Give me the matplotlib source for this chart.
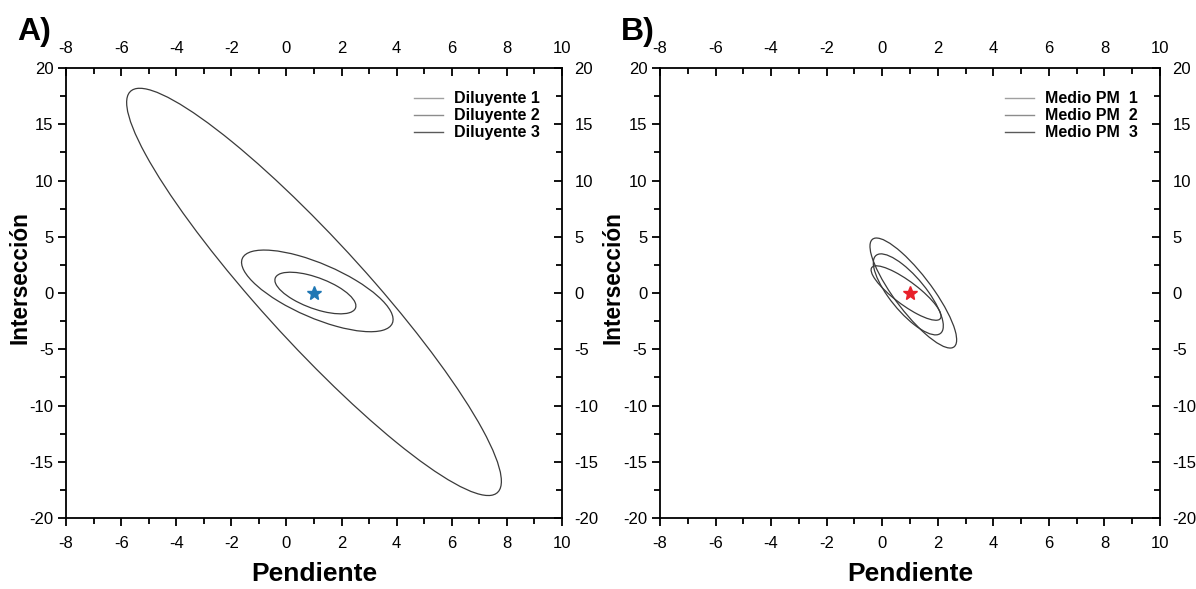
import numpy as np
import matplotlib.pyplot as plt
from matplotlib.patches import Ellipse
from matplotlib.lines import Line2D
from matplotlib.ticker import MultipleLocator

plt.rcParams['font.family'] = ['Liberation Sans', 'DejaVu Sans']
plt.rcParams['axes.unicode_minus'] = False

# confidence ellipses:
# centre x, centre y, half extent in x, half extent in y, correlation
dil_labels = ['Diluyente 1', 'Diluyente 2', 'Diluyente 3']
dil_cx = [1.0, 1.12, 1.05]
dil_cy = [0.1, 0.19, 0.0]
dil_ax = [6.8, 2.75, 1.47]
dil_ay = [18.1, 3.63, 1.85]
dil_rho = [-0.93, -0.70, -0.62]

pm_labels = ['Medio PM  1', 'Medio PM  2', 'Medio PM  3']
pm_cx = [1.12, 0.94, 0.86]
pm_cy = [0.0, -0.12, 0.0]
pm_ax = [1.56, 1.26, 1.26]
pm_ay = [4.89, 3.6, 2.42]
pm_rho = [-0.85, -0.78, -0.85]

legend_colors = ['#a0a0a0', '#8c8c8c', '#5a5a5a']
star_point = (1, 0)


def ellipse_patch(cx, cy, ax_, ay_, rho, color):
    cov = np.array([[ax_**2, rho*ax_*ay_], [rho*ax_*ay_, ay_**2]])
    vals, vecs = np.linalg.eigh(cov)
    angle = np.degrees(np.arctan2(vecs[1, 1], vecs[0, 1]))
    return Ellipse((cx, cy), 2*np.sqrt(vals[1]), 2*np.sqrt(vals[0]), angle=angle,
                   fill=False, edgecolor=color, linewidth=0.9)


def style_axes(ax, ylab_x):
    ax.set_xlim(-8, 10)
    ax.set_ylim(-20, 20)
    ax.xaxis.set_major_locator(MultipleLocator(2))
    ax.xaxis.set_minor_locator(MultipleLocator(1))
    ax.yaxis.set_major_locator(MultipleLocator(5))
    ax.yaxis.set_minor_locator(MultipleLocator(2.5))
    ax.tick_params(which='both', top=True, right=True, labeltop=True, labelright=True,
                   labelsize=12, width=1.3, color='black', pad=3)
    ax.tick_params(which='major', length=6)
    ax.tick_params(which='minor', length=4)
    ax.tick_params(axis='x', which='both', bottom=True, direction='out')
    ax.tick_params(axis='y', which='both', left=True, direction='out')
    # top and right point inward
    for t in ax.xaxis.get_major_ticks() + ax.xaxis.get_minor_ticks():
        t.tick2line.set_marker(3)
    for t in ax.yaxis.get_major_ticks() + ax.yaxis.get_minor_ticks():
        t.tick2line.set_marker(0)
    for t in ax.xaxis.get_major_ticks():
        t.label1.set_y(-0.012)
    for s in ax.spines.values():
        s.set_linewidth(1.3)
    ax.set_xlabel('Pendiente', fontsize=19, fontweight='bold')
    ax.set_ylabel('Intersección', fontsize=16.3, fontweight='bold')
    ax.xaxis.set_label_coords(0.5, -0.097)
    ax.yaxis.set_label_coords(ylab_x, 0.535)


fig = plt.figure(figsize=(11.96, 5.89), dpi=100)
axA = fig.add_axes([0.0552, 0.1205, 0.4147, 0.7640])
axB = fig.add_axes([0.5518, 0.1205, 0.4181, 0.7640])

for ax, cxs, cys, axs, ays, rhos, labels, star_col, ylx in [
        (axA, dil_cx, dil_cy, dil_ax, dil_ay, dil_rho, dil_labels, '#1f77b4', -0.0706),
        (axB, pm_cx, pm_cy, pm_ax, pm_ay, pm_rho, pm_labels, '#e8202a', -0.07)]:
    style_axes(ax, ylx)
    for i in range(3):
        ax.add_patch(ellipse_patch(cxs[i], cys[i], axs[i], ays[i], rhos[i], '#3a3a3a'))
    ax.plot(star_point[0], star_point[1], marker='*', color=star_col, markersize=10, linestyle='none')
    handles = [Line2D([0], [0], color=c, linewidth=1) for c in legend_colors]
    leg = ax.legend(handles, labels, loc='upper right', frameon=False,
                    prop={'weight': 'bold', 'size': 11.5}, handlelength=1.8,
                    handletextpad=0.7, labelspacing=0.12, bbox_to_anchor=(0.985, 0.98))

fig.text(0.014, 0.932, 'A)', fontsize=23, fontweight='bold')
fig.text(0.519, 0.932, 'B)', fontsize=23, fontweight='bold')

fig.savefig('out.png', dpi=100)
